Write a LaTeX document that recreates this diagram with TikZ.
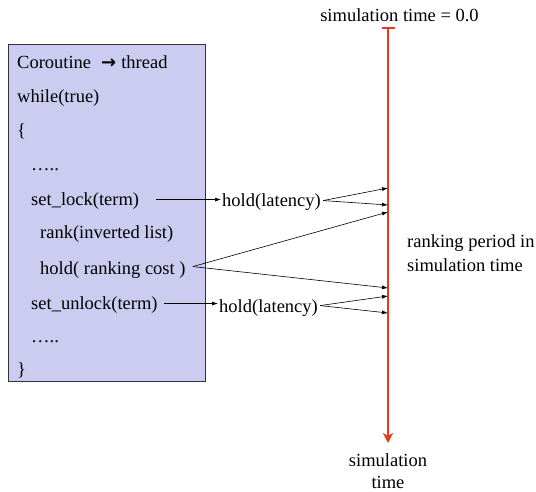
\documentclass[tikz,border=0pt]{standalone}
\usepackage{fontspec}
\setmainfont{Liberation Serif}
\newfontfamily\symfont{DejaVu Sans}
\usetikzlibrary{arrows.meta}
\definecolor{boxfill}{RGB}{204,204,240}
\definecolor{timered}{RGB}{232,56,32}
\begin{document}
\begin{tikzpicture}[x=1pt,y=-1pt,
  font=\fontsize{18.5}{22}\selectfont,
  code/.style={anchor=base west, inner sep=0pt},
  conn/.style={-{Latex[length=6pt,width=4pt]}, line width=0.6pt},
  timeline/.style={timered, line width=2pt}]
\useasboundingbox (0,0) rectangle (536,492);
\draw[fill=boxfill, draw=black!80, line width=0.8pt] (8,44) rectangle (205,381);
\node[code] (l1) at (17,69) {Coroutine\hspace{10pt}{\symfont\bfseries\fontsize{18}{20}\selectfont →}\hspace{5pt}thread};
\node[code] (l2) at (17,103) {while(true)};
\node[code] (l3) at (17,137) {\{};
\node[code] (l4) at (31,171) {…..};
\node[code] (lock) at (31,206) {set\_lock(term)};
\node[code] (rank) at (40,239) {rank(inverted list)};
\node[code] (cost) at (40,274) {hold( ranking cost )};
\node[code] (unlock) at (31,309) {set\_unlock(term)};
\node[code] (l9) at (31,342) {…..};
\node[code] (l10) at (17,375) {\}};
\node[code] (hl1) at (222,207) {hold(latency)};
\node[code] (hl2) at (219,312) {hold(latency)};
\node[anchor=base, inner sep=0pt] (t0) at (399.5,22) {simulation time = 0.0};
\node[anchor=north, inner sep=0pt, align=center, font=\fontsize{18.5}{21.5}\selectfont] (tend) at (388,453.5) {simulation\\time};
\node[anchor=north west, inner sep=0pt, align=left, font=\fontsize{18.5}{24}\selectfont] (period) at (407,234.5) {ranking period in\\simulation time};
\coordinate (top) at (388,27);
\coordinate (bot) at (388,443);
\draw[timeline, {Bar[width=13pt,line width=2pt]}-{Stealth[length=10pt,width=10pt,inset=3pt]}] (top) -- (bot);
\coordinate (t1) at (388,188);
\coordinate (t2) at (388,205);
\coordinate (t3) at (388,212);
\coordinate (t4) at (388,288);
\coordinate (t5) at (388,296);
\coordinate (t6) at (388,313);
\draw[conn, shorten >=1pt] ([xshift=17pt,yshift=2pt]lock.east) -- ([yshift=2pt]lock.east -| hl1.west);
\draw[conn, shorten >=1pt] ([xshift=6pt,yshift=1pt]unlock.east) -- ([yshift=1pt]unlock.east -| hl2.west);
\draw[conn] ([xshift=2pt,yshift=2pt]hl1.east) -- (t1);
\draw[conn] ([xshift=2pt,yshift=2pt]hl1.east) -- (t2);
\draw[conn] ([xshift=7pt,yshift=3pt]cost.east) -- (t3);
\draw[conn] ([xshift=7pt,yshift=3pt]cost.east) -- (t4);
\draw[conn] ([xshift=2pt,yshift=2pt]hl2.east) -- (t5);
\draw[conn] ([xshift=2pt,yshift=2pt]hl2.east) -- (t6);
\end{tikzpicture}
\end{document}
